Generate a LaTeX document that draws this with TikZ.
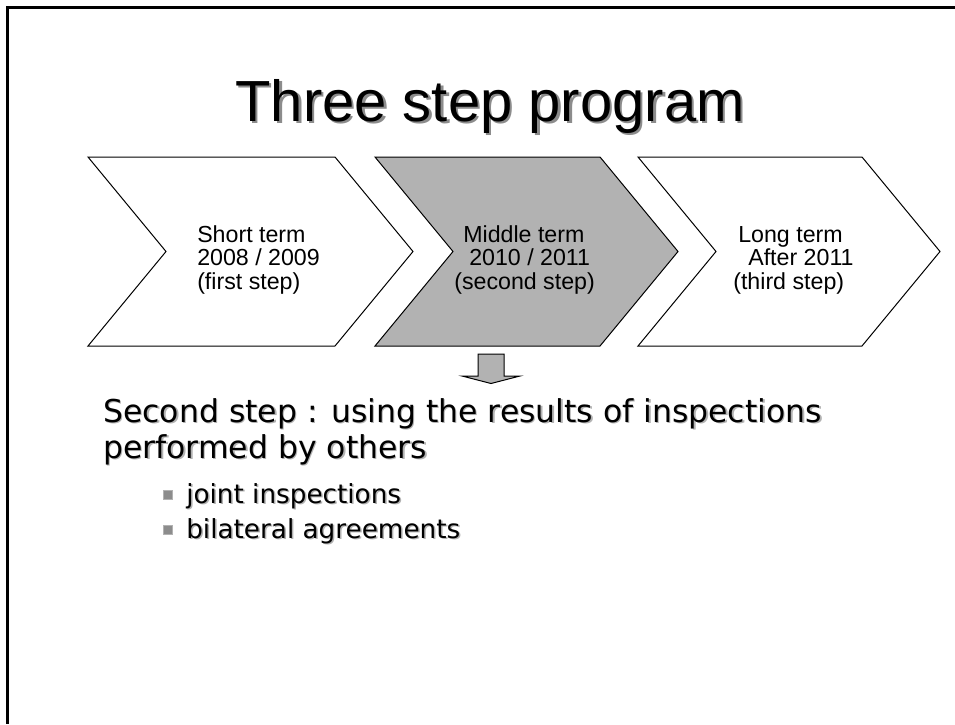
\documentclass[tikz,border=0pt]{standalone}
\usepackage{fontspec}
\setmainfont{Liberation Sans}
\newfontfamily\bodyfont{DejaVu Sans}
\usetikzlibrary{positioning}
\definecolor{stepgray}{HTML}{B2B2B2}
\definecolor{shadowgray}{HTML}{8C8C8C}
\tikzset{
  chevron/.style={draw=black,line width=0.75pt,line join=miter},
  titletext/.style={anchor=base,inner sep=0pt,font=\fontsize{43.5}{50}\selectfont},
  steptext/.style={anchor=base west,inner sep=0pt,font=\fontsize{17.4}{20}\selectfont},
  bodytext/.style={anchor=base west,inner sep=0pt,font=\bodyfont\fontsize{23.6}{28}\selectfont},
  subtext/.style={anchor=base west,inner sep=0pt,font=\bodyfont\fontsize{19.7}{24}\selectfont},
  bulletsq/.style={draw=black!30,fill=black!45,line width=0.4pt,minimum size=6.5pt,inner sep=0pt},
  blockarrow/.style={draw=black,line width=0.75pt,fill=stepgray,line join=miter}
}

\begin{document}
\begin{tikzpicture}[x=0.75pt,y=0.75pt]
  \useasboundingbox (0,0) rectangle (955,-724);
  \fill[white] (0,0) rectangle (955,-724);
  % slide frame, top and left edge only
  \draw[line width=2pt] (955,-7.5) -- (7.5,-7.5) -- (7.5,-724);

  \node[titletext,text=shadowgray] (titleshade) at (492.5,-123.5) {Three step program};
  \node[titletext] (title) at (490,-121) {Three step program};

  % the three chevrons
  \foreach \l/\r/\f in {88/335/white,375/600/stepgray,638/862/white} {
    \draw[chevron,fill=\f] (\l,-157) -- (\r,-157) -- ++(78,-94.5) -- (\r,-346)
      -- (\l,-346) -- ++(78,94.5) -- cycle;
  }

  \foreach \n/\xpos/\ypos/\t in {
      a1/197/-242/{Short term}, a2/197/-265.5/{2008 / 2009}, a3/197/-289/{(first step)},
      b1/463/-242/{Middle term}, b2/469/-265.5/{2010 / 2011}, b3/454/-289/{(second step)},
      c1/738/-242/{Long term}, c2/748/-265.5/{After 2011}, c3/733/-289/{(third step)}} {
    \node[steptext] (\n) at (\xpos,\ypos) {\t};
  }

  \draw[blockarrow] (478,-354) -- (504,-354) -- (504,-376) -- (520,-376)
    -- (491,-383.5) -- (462,-376) -- (478,-376) -- cycle;

  % body text with its soft shadow
  \foreach \n/\xpos/\ypos/\t in {
      l1/103/-422/{Second step : using the results of inspections},
      l2/103/-458/{performed by others}} {
    \node[bodytext,text=black!30] (\n s) at (\xpos+1.5,\ypos-1.5) {\t};
    \node[bodytext] (\n) at (\xpos,\ypos) {\t};
  }
  \foreach \n/\ypos/\t in {p1/-503/{joint inspections},p2/-538/{bilateral agreements}} {
    \node[bulletsq] (\n b) at (167.5,\ypos+8.5) {};
    \node[subtext,text=black!30] (\n s) at (187.5,\ypos-1.5) {\t};
    \node[subtext] (\n) at (186,\ypos) {\t};
  }
\end{tikzpicture}
\end{document}
